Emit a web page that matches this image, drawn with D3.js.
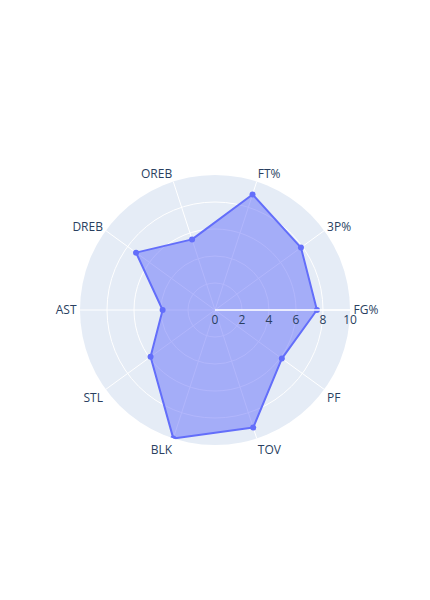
<!DOCTYPE html>
<html>
<head>
<meta charset="utf-8">
<script src="https://cdn.jsdelivr.net/npm/d3@7"></script>
<style>
  html, body { margin: 0; padding: 0; background: #fff; }
  svg { display: block; }
</style>
</head>
<body>
<div id="chart"></div>
<script>
const categories = ["FG%", "3P%", "FT%", "OREB", "DREB", "AST", "STL", "BLK", "TOV", "PF"];
const values = [7.55, 7.87, 9.0, 5.5, 7.23, 3.88, 5.9, 10.0, 9.16, 6.12];
const radialTicks = [0, 2, 4, 6, 8, 10];
const gridTicks = [2, 4, 6, 8];

const W = 430, H = 600;
const cx = 215, cy = 310, R = 135;
const font = "'Open Sans', 'Noto Sans', sans-serif";
const textColor = "#2a3f5f";
const traceColor = "#636efa";

const svg = d3.select("#chart").append("svg").attr("width", W).attr("height", H);
const g = svg.append("g").attr("transform", `translate(${cx},${cy})`);

const rScale = d3.scaleLinear().domain([0, 10]).range([0, R]);
const angle = d3.scalePoint().domain(categories).range([0, 360 * (categories.length - 1) / categories.length]);
const rad = c => angle(c) * Math.PI / 180;
const px = (c, r) => Math.cos(rad(c)) * r;
const py = (c, r) => -Math.sin(rad(c)) * r;

// background
g.append("circle").attr("r", R).attr("fill", "#E5ECF6");

// circular grid
g.selectAll("circle.grid").data(gridTicks).enter().append("circle")
  .attr("class", "grid").attr("r", d => rScale(d))
  .attr("fill", "none").attr("stroke", "#fff").attr("stroke-width", 1);

// spokes
g.selectAll("line.spoke").data(categories).enter().append("line")
  .attr("class", "spoke")
  .attr("x1", 0).attr("y1", 0)
  .attr("x2", d => px(d, R)).attr("y2", d => py(d, R))
  .attr("stroke", "#fff").attr("stroke-width", 1);

// clip
svg.append("defs").append("clipPath").attr("id", "polarClip")
  .append("circle").attr("r", R);

const data = categories.map((c, i) => ({ c, v: values[i] }));
const trace = g.append("g").attr("clip-path", "url(#polarClip)");
const line = d3.lineRadial()
  .angle(d => Math.PI / 2 - rad(d.c))
  .radius(d => rScale(d.v))
  .curve(d3.curveLinearClosed);

trace.append("path").attr("d", line(data))
  .attr("fill", "rgba(99,110,250,0.5)")
  .attr("stroke", traceColor).attr("stroke-width", 2)
  .attr("stroke-linejoin", "round");

trace.selectAll("circle.pt").data(data).enter().append("circle")
  .attr("class", "pt")
  .attr("cx", d => px(d.c, rScale(d.v)))
  .attr("cy", d => py(d.c, rScale(d.v)))
  .attr("r", 3).attr("fill", traceColor);

// radial axis line (above traces)
g.append("line").attr("x1", 0).attr("y1", 0).attr("x2", R).attr("y2", 0)
  .attr("stroke", "#fff").attr("stroke-width", 1.5);

// radial tick labels
g.selectAll("text.rtick").data(radialTicks).enter().append("text")
  .attr("class", "rtick")
  .attr("x", d => rScale(d)).attr("y", 14)
  .attr("text-anchor", "middle")
  .attr("font-family", font).attr("font-size", 12).attr("fill", textColor)
  .text(d => d);

// angular labels
g.selectAll("text.alabel").data(categories).enter().append("text")
  .attr("class", "alabel")
  .attr("x", d => px(d, R) + 3.5 * Math.cos(rad(d)))
  .attr("y", d => {
    const s = Math.sin(rad(d)), co = Math.cos(rad(d));
    return py(d, R) - 5 * s + Math.abs(co) * 4.2 + (s < 0 ? -s * 10.2 : 0);
  })
  .attr("text-anchor", d => {
    const co = Math.cos(rad(d));
    return co > 0.01 ? "start" : (co < -0.01 ? "end" : "middle");
  })
  .attr("font-family", font).attr("font-size", 12).attr("fill", textColor)
  .text(d => d);
</script>
</body>
</html>
